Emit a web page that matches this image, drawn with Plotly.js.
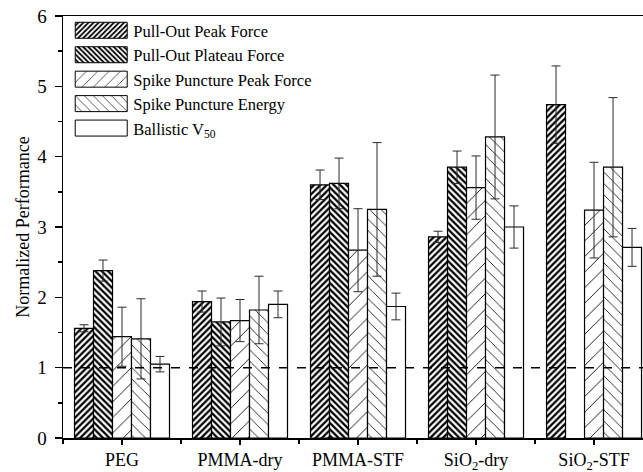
<!DOCTYPE html>
<html>
<head>
<meta charset="utf-8">
<script src="https://cdn.plot.ly/plotly-3.0.1.min.js"></script>
<style>
  html, body { margin: 0; padding: 0; background: #fff; }
  #chart { width: 643px; height: 472px; }
  #chart svg text { font-family: "Liberation Serif", "Times New Roman", serif !important; }
</style>
</head>
<body>
<div id="chart"></div>
<script>
const categories = ["PEG", "PMMA-dry", "PMMA-STF", "SiO<sub>2</sub>-dry", "SiO<sub>2</sub>-STF"];
const seriesNames = ["Pull-Out Peak Force", "Pull-Out Plateau Force", "Spike Puncture Peak Force", "Spike Puncture Energy", "Ballistic V<sub>50</sub>"];

const pullOutPeak      = [1.56, 1.94, 3.60, 2.86, 4.74];
const pullOutPeakErr   = [0.05, 0.15, 0.21, 0.08, 0.55];
const pullOutPlateau   = [2.38, 1.65, 3.62, 3.85, null];
const pullOutPlateauErr= [0.15, 0.34, 0.36, 0.23, null];
const spikePeak        = [1.44, 1.67, 2.67, 3.56, 3.24];
const spikePeakErr     = [0.42, 0.30, 0.59, 0.45, 0.68];
const spikeEnergy      = [1.41, 1.82, 3.25, 4.28, 3.85];
const spikeEnergyErr   = [0.57, 0.48, 0.95, 0.88, 0.99];
const ballistic        = [1.05, 1.90, 1.87, 3.00, 2.71];
const ballisticErr     = [0.11, 0.19, 0.19, 0.30, 0.27];
const referenceLevel = 1;

const xIdx = categories.map((_, i) => i);
const values = [pullOutPeak, pullOutPlateau, spikePeak, spikeEnergy, ballistic];
const errors = [pullOutPeakErr, pullOutPlateauErr, spikePeakErr, spikeEnergyErr, ballisticErr];
const patterns = [
  {shape: "/", size: 4.5, solidity: 0.5, fgcolor: "#000", bgcolor: "#fff"},
  {shape: "\\", size: 4.5, solidity: 0.5, fgcolor: "#000", bgcolor: "#fff"},
  {shape: "/", size: 11, solidity: 0.08, fgcolor: "#000", bgcolor: "#fff"},
  {shape: "\\", size: 8, solidity: 0.1, fgcolor: "#000", bgcolor: "#fff"},
  {shape: "", fgcolor: "#000", bgcolor: "#fff"}
];

const fam = "Liberation Serif";

const traces = values.map((v, k) => ({
  type: "bar",
  name: seriesNames[k],
  x: xIdx,
  y: v,
  marker: {color: "#fff", line: {color: "#000", width: 1.2}, pattern: patterns[k]},
  error_y: {type: "data", array: errors[k], visible: true, color: "#2a2a2a", thickness: 1, width: 4.5},
  hoverinfo: "skip"
}));

const layout = {
  width: 643, height: 472,
  margin: {l: 63, r: 0, t: 16, b: 34},
  paper_bgcolor: "#fff", plot_bgcolor: "#fff",
  barmode: "group", bargap: 0.195, bargroupgap: 0,
  font: {family: fam, color: "#000", size: 17},
  showlegend: true,
  legend: {x: 0.009, y: 1.007, xanchor: "left", yanchor: "top", bgcolor: "rgba(0,0,0,0)",
           font: {family: fam, size: 16.5, color: "#000"}, itemwidth: 55, tracegroupgap: 0},
  xaxis: {
    range: [-0.5, 4.415], tickvals: xIdx, ticktext: categories,
    showline: true, linecolor: "#000", linewidth: 1.5, mirror: true,
    ticks: "outside", ticklen: 5, tickwidth: 1.5, tickcolor: "#000",
    minor: {tick0: 0.5, dtick: 1, ticks: "outside", ticklen: 4, tickwidth: 1.5, tickcolor: "#000"},
    showgrid: false, zeroline: false, tickfont: {family: fam, size: 18},
    fixedrange: true
  },
  yaxis: {
    range: [0, 6], dtick: 1, tick0: 0,
    showline: true, linecolor: "#000", linewidth: 1.5, mirror: false,
    ticks: "outside", ticklen: 7, tickwidth: 1.5, tickcolor: "#000", ticklabelstandoff: 4,
    minor: {dtick: 0.5, ticks: "outside", ticklen: 4, tickwidth: 1.5, tickcolor: "#000"},
    showgrid: false, zeroline: false, tickfont: {family: fam, size: 19},
    title: {text: "Normalized Performance", font: {family: fam, size: 18}, standoff: 3},
    fixedrange: true
  },
  shapes: [{type: "line", xref: "paper", x0: 0, x1: 1, yref: "y", y0: referenceLevel, y1: referenceLevel,
            line: {color: "#000", width: 1.5, dash: "dash"}}]
};

const gd = document.getElementById("chart");
Plotly.newPlot(gd, traces, layout, {staticPlot: true, displayModeBar: false}).then(() => {
  // enlarge legend swatches to wide rectangles like the original figure
  gd.querySelectorAll(".legend .traces").forEach(g => {
    const t = g.querySelector("text.legendtext");
    const p = g.querySelector(".legendpoints path");
    if (!t || !p) return;
    const tx = parseFloat(t.getAttribute("x")) || 40;
    p.setAttribute("d", "M-26,8H26V-8H-26Z");
    p.setAttribute("transform", "translate(" + (tx - 32) + ",0)");
    p.style.strokeWidth = "1px";
    p.style.stroke = "#000";
  });
});
</script>
</body>
</html>
